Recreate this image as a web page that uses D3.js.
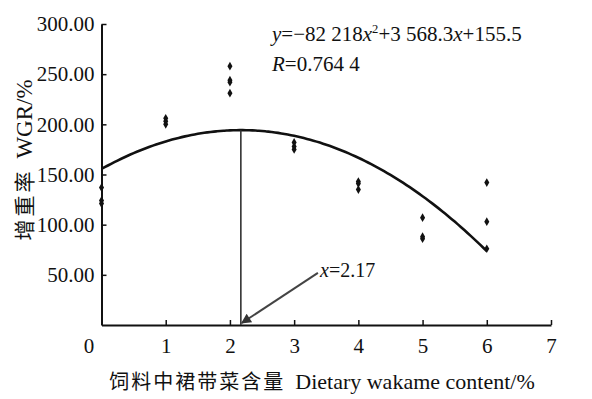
<!DOCTYPE html>
<html>
<head>
<meta charset="utf-8">
<script src="https://cdn.jsdelivr.net/npm/d3@7"></script>
<style>
  body { margin: 0; background: #fff; }
  svg { display: block; }
</style>
</head>
<body>
<div id="graph-div"></div>
<script>
'use strict'

// wakame content (%) for each measured fish group, three replicates each
const xContent = [0, 0, 0, 1, 1, 1, 2, 2, 2, 2, 3, 3, 3, 4, 4, 4, 5, 5, 5, 6, 6, 6]
const wgrValues = [137, 124, 121, 206, 203, 200, 258, 244, 242, 231, 182, 178, 175, 143, 141, 135, 107, 88, 86, 142, 103, 76]

// fitted curve (x as percent): y = a x^2 + b x + c
const fitCoef = [-8.2218, 35.683, 155.5]
const fitRange = [0, 6]
const optimumX = 2.17

const xTicks = [0, 1, 2, 3, 4, 5, 6, 7]
const yTicks = [50, 100, 150, 200, 250, 300]

const eqLabel = ["y", "=−82 218", "x", "2", "+3 568.3", "x", "+155.5"]
const rLabel = ["R", "=0.764 4"]
const optLabel = ["x", "=2.17"]
const arrowFrom = [3.37, 52]

const width = 592, height = 399
const padding = {top: 24, bottom: 74, left: 101.5, right: 41}

let svg = d3.select("#graph-div").append("svg").attr("width", width).attr("height", height)

let xScale = d3.scaleLinear().domain([0, 7]).range([padding.left, width - padding.right])
let yScale = d3.scaleLinear().domain([0, 300]).range([height - padding.bottom, padding.top])

let serif = "'Liberation Serif', 'Times New Roman', 'DejaVu Serif', serif"
let cjk = "'Noto Sans CJK SC', sans-serif"

// x axis
let xg = svg.append("g")
	.attr("transform", "translate(0," + yScale(0) + ")")
	.call(d3.axisBottom(xScale).tickValues(xTicks).tickSize(-5).tickSizeOuter(0).tickPadding(13).tickFormat(d3.format("d")))
xg.select(".domain").attr("stroke", "#111").attr("stroke-width", 2)
xg.selectAll(".tick line").attr("stroke", "#111").attr("stroke-width", 1.5)
xg.selectAll(".tick").filter(d => d == 0).select("line").remove()
xg.selectAll(".tick text").style("font-family", serif).style("font-size", "21px").attr("fill", "#111")
	.attr("dx", d => d == 0 ? -13 : 0)

// y axis
let yg = svg.append("g")
	.attr("transform", "translate(" + xScale(0) + ",0)")
	.call(d3.axisLeft(yScale).tickValues(yTicks).tickSize(-5).tickSizeOuter(0).tickPadding(7).tickFormat(d3.format(".2f")))
yg.select(".domain").attr("stroke", "#111").attr("stroke-width", 2)
yg.selectAll(".tick line").attr("stroke", "#111").attr("stroke-width", 1.5)
yg.selectAll(".tick text").style("font-family", serif).style("font-size", "21px").attr("fill", "#111")

// fitted curve
let curvePts = d3.range(fitRange[0], fitRange[1] + 0.001, 0.05).map(function(x){
	return [x, fitCoef[0] * x * x + fitCoef[1] * x + fitCoef[2]]
})
svg.append("path")
	.datum(curvePts)
	.attr("fill", "none")
	.attr("stroke", "#111")
	.attr("stroke-width", 2.6)
	.attr("d", d3.line().x(d => xScale(d[0])).y(d => yScale(d[1])).curve(d3.curveMonotoneX))

// vertical line at optimum
let optY = fitCoef[0] * optimumX * optimumX + fitCoef[1] * optimumX + fitCoef[2]
svg.append("line")
	.attr("x1", xScale(optimumX)).attr("x2", xScale(optimumX))
	.attr("y1", yScale(optY)).attr("y2", yScale(0))
	.attr("stroke", "#333").attr("stroke-width", 1.6)

// arrow
svg.append("defs").append("marker")
	.attr("id", "arrowhead")
	.attr("viewBox", "0 0 10 10")
	.attr("refX", 9).attr("refY", 5)
	.attr("markerWidth", 6).attr("markerHeight", 5)
	.attr("orient", "auto")
	.append("path").attr("d", "M0,0L10,5L0,10z").attr("fill", "#333")

svg.append("line")
	.attr("x1", xScale(arrowFrom[0])).attr("y1", yScale(arrowFrom[1]))
	.attr("x2", xScale(optimumX) + 1).attr("y2", yScale(0) - 2)
	.attr("stroke", "#444").attr("stroke-width", 2)
	.attr("marker-end", "url(#arrowhead)")

// points
let sym = d3.symbol().type(d3.symbolDiamond).size(22)
svg.append("g").selectAll(".dot")
	.data(xContent.map((x, i) => [x, wgrValues[i]]))
	.enter()
	.append("path")
	.attr("class", "dot")
	.attr("transform", d => "translate(" + xScale(d[0]) + "," + yScale(d[1]) + ")")
	.attr("d", sym)
	.attr("fill", "#111")

// mixed italic text helper
function richText(parts, x, y, size, italicIdx, supIdx){
	let t = svg.append("text").attr("x", x).attr("y", y)
		.style("font-family", serif).style("font-size", size + "px").attr("fill", "#111")
	parts.forEach(function(p, i){
		let ts = t.append("tspan").text(p)
		if (italicIdx.indexOf(i) >= 0) ts.style("font-style", "italic")
		if (supIdx.indexOf(i) >= 0) ts.style("font-size", (size * 0.6) + "px").attr("dy", -8)
		if (supIdx.indexOf(i - 1) >= 0) ts.attr("dy", 8)
	})
	return t
}

richText(eqLabel, 272, 41, 21, [0, 2, 5], [3])
richText(rLabel, 272, 71, 21, [0], [])
richText(optLabel, 320, 277, 20, [0], [])

// axis titles
let xt = svg.append("text")
	.attr("x", 322).attr("y", 389)
	.attr("text-anchor", "middle")
	.attr("fill", "#111")
xt.append("tspan").style("font-family", cjk).style("font-size", "20px").attr("letter-spacing", 2).text("饲料中裙带菜含量")
xt.append("tspan").style("font-family", serif).style("font-size", "22px").attr("dx", 10).text("Dietary wakame content/%")

let yt = svg.append("text")
	.attr("transform", "translate(32,160) rotate(-90)")
	.attr("text-anchor", "middle")
	.attr("fill", "#111")
yt.append("tspan").style("font-family", cjk).style("font-size", "21px").attr("letter-spacing", 3).text("增重率")
yt.append("tspan").style("font-family", serif).style("font-size", "23px").attr("dx", 10).text("WGR/%")
</script>
</body>
</html>
